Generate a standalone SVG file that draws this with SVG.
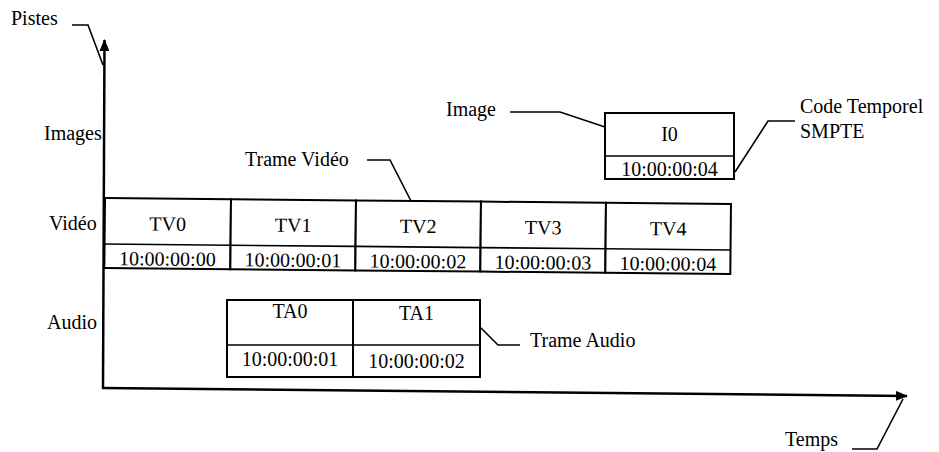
<svg xmlns="http://www.w3.org/2000/svg" width="939" height="452" viewBox="0 0 939 452" font-family="Liberation Serif, DejaVu Serif, serif" font-size="20">
<defs>
<style>
text{font-family:'Liberation Serif','DejaVu Serif',serif;font-size:20px;fill:#000}
.c{text-anchor:middle}
.b{fill:#fff;stroke:#000;stroke-width:2}
.d{stroke:#000;stroke-width:1.6;fill:none}
.ax{stroke:#000;stroke-width:2.5;fill:none}
.ln{stroke:#000;stroke-width:1.6;fill:none}
</style>
<marker id="ah" viewBox="0 0 12 10" refX="11" refY="5" markerWidth="12" markerHeight="10" markerUnits="userSpaceOnUse" orient="auto">
<path d="M0,0 L12,5 L0,10 Z" fill="#000"/>
</marker>
</defs>
<rect width="939" height="452" fill="#fff"/>
<g id="connectors">
<line class="ax" x1="103" y1="389" x2="104.5" y2="40" marker-end="url(#ah)"/>
<line class="ax" x1="102" y1="388" x2="907" y2="396" marker-end="url(#ah)"/>
<polyline class="ln" points="72,25 88,25 103,65"/>
<polyline class="ln" points="510,112 560,112 605,127"/>
<polyline class="ln" points="735,172 768,121 795,121"/>
<polyline class="ln" points="367,160 390,160 412,203"/>
<polyline class="ln" points="480,327 498,345 520,345"/>
<polyline class="ln" points="852,449 877,449 903,399"/>
</g>
<g id="labels">
<text x="11" y="25">Pistes</text>
<text x="44" y="140">Images</text>
<text x="49" y="230">Vidéo</text>
<text x="47" y="329">Audio</text>
<text x="446" y="116">Image</text>
<text x="800" y="113">Code Temporel</text>
<text x="800" y="138">SMPTE</text>
<text x="245" y="166">Trame Vidéo</text>
<text x="530" y="347">Trame Audio</text>
<text x="785" y="446">Temps</text>
</g>
<g id="image-I0">
<rect class="b" x="605" y="113" width="129" height="66"/>
<line class="d" x1="605" y1="156" x2="734" y2="156"/>
<text class="c" x="669.5" y="141">I0</text>
<text class="c" x="669.5" y="176">10:00:00:04</text>
</g>
<g id="video-row" transform="rotate(0.55 105 198)">
<g id="TV0">
<rect class="b" x="105" y="198" width="126" height="70"/>
<line class="d" x1="105" y1="244" x2="231" y2="244"/>
<text class="c" x="168" y="230">TV0</text>
<text class="c" x="168" y="265">10:00:00:00</text>
</g>
<g id="TV1">
<rect class="b" x="231" y="198" width="125" height="70"/>
<line class="d" x1="231" y1="244" x2="356" y2="244"/>
<text class="c" x="293.5" y="230">TV1</text>
<text class="c" x="293.5" y="265">10:00:00:01</text>
</g>
<g id="TV2">
<rect class="b" x="356" y="198" width="125" height="70"/>
<line class="d" x1="356" y1="244" x2="481" y2="244"/>
<text class="c" x="418.5" y="230">TV2</text>
<text class="c" x="418.5" y="265">10:00:00:02</text>
</g>
<g id="TV3">
<rect class="b" x="481" y="198" width="125" height="70"/>
<line class="d" x1="481" y1="244" x2="606" y2="244"/>
<text class="c" x="543.5" y="230">TV3</text>
<text class="c" x="543.5" y="265">10:00:00:03</text>
</g>
<g id="TV4">
<rect class="b" x="606" y="198" width="125" height="70"/>
<line class="d" x1="606" y1="244" x2="731" y2="244"/>
<text class="c" x="668.5" y="230">TV4</text>
<text class="c" x="668.5" y="265">10:00:00:04</text>
</g>
</g>
<g id="audio-row">
<g id="TA0">
<rect class="b" x="227" y="300" width="126" height="77"/>
<line class="d" x1="227" y1="345" x2="353" y2="345"/>
<text class="c" x="290" y="318">TA0</text>
<text class="c" x="290" y="366">10:00:00:01</text>
</g>
<g id="TA1">
<rect class="b" x="353" y="300" width="127" height="77"/>
<line class="d" x1="353" y1="345" x2="480" y2="345"/>
<text class="c" x="416.5" y="320">TA1</text>
<text class="c" x="416.5" y="368">10:00:00:02</text>
</g>
</g>
</svg>
